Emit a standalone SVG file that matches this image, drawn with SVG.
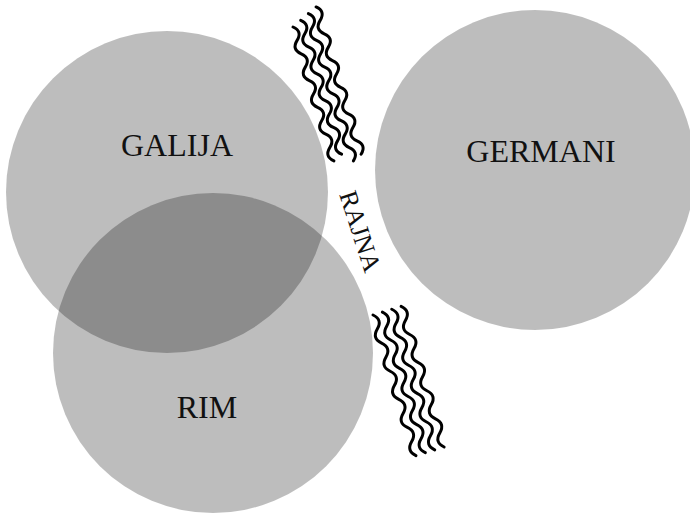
<svg xmlns="http://www.w3.org/2000/svg" xmlns:xlink="http://www.w3.org/1999/xlink" width="690" height="513" viewBox="0 0 690 513">
  <style>
    .region { fill: #000; fill-opacity: 0.26; }
    .label { font-family: "Liberation Serif", "Times New Roman", serif; font-size: 32px; fill: #111; text-anchor: middle; }
    .river-label { font-family: "Liberation Serif", "Times New Roman", serif; font-size: 26px; fill: #111; text-anchor: middle; }
    .wave { fill: none; stroke: #000; stroke-width: 3; stroke-linecap: round; }
  </style>
  <defs>
    <path id="wa" d="M0,0 q8,7 0,14 t0,14 t0,14 t0,14 t0,14 t0,14 t0,14 t0,14 t0,14 t0,14"/>
    <path id="wb" d="M0,0 q8,7 0,14 t0,14 t0,14 t0,14 t0,14 t0,14 t0,14 t0,14 t0,14 t0,14 t0,14"/>
    <path id="wc" d="M0,0 q8,7.35 0,14.7 t0,14.7 t0,14.7 t0,14.7 t0,14.7 t0,14.7 t0,14.7 t0,14.7 t0,14.7 t0,14.7"/>
  </defs>
  <rect width="690" height="513" fill="#fff"/>
  <g id="galija">
    <circle class="region" cx="167" cy="192" r="161"/>
  </g>
  <g id="rim">
    <circle class="region" cx="213" cy="353" r="160"/>
  </g>
  <g id="germani">
    <circle class="region" cx="535" cy="170" r="160"/>
  </g>
  <g id="labels">
    <text class="label" x="177" y="156">GALIJA</text>
    <text class="label" x="207" y="418">RIM</text>
    <text class="label" x="541" y="162">GERMANI</text>
  </g>
  <g id="river">
    <g transform="translate(293,27) rotate(-17)">
      <use xlink:href="#wa" href="#wa" class="wave"/>
      <use xlink:href="#wa" href="#wa" class="wave" x="9.3" y="-4.1"/>
      <use xlink:href="#wb" href="#wb" class="wave" x="18.6" y="-8.3"/>
      <use xlink:href="#wb" href="#wb" class="wave" x="27.9" y="-12.4"/>
    </g>
    <g transform="translate(373,315) rotate(-17)">
      <use xlink:href="#wc" href="#wc" class="wave"/>
      <use xlink:href="#wc" href="#wc" class="wave" x="9.8" y="0"/>
      <use xlink:href="#wc" href="#wc" class="wave" x="19.6" y="0"/>
      <use xlink:href="#wc" href="#wc" class="wave" x="29.4" y="0"/>
    </g>
    <text class="river-label" transform="translate(352,234) rotate(72)">RAJNA</text>
  </g>
</svg>
